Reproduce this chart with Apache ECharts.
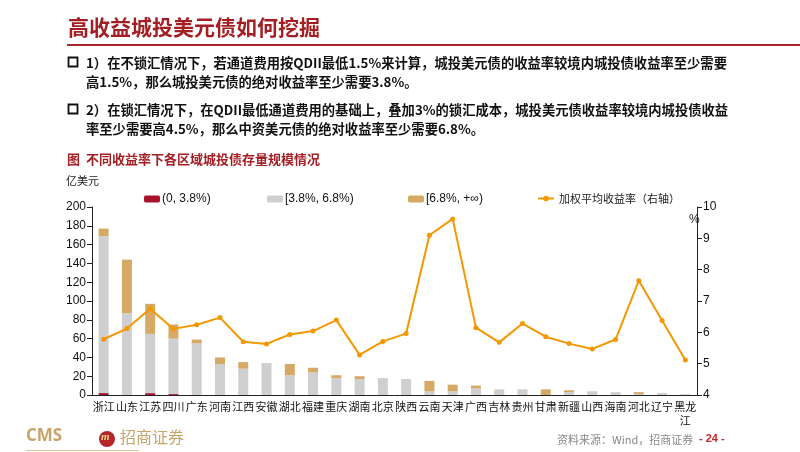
<!DOCTYPE html>
<html><head><meta charset="utf-8">
<script src="https://cdn.jsdelivr.net/npm/echarts@6/dist/echarts.min.js"></script>
<style>html,body{margin:0;padding:0;background:#fff}#c{width:800px;height:452px}</style>
</head><body><div id="c"></div>
<script>
const categories = ['浙江','山东','江苏','四川','广东','河南','江西','安徽','湖北','福建','重庆','湖南','北京','陕西','云南','天津','广西','吉林','贵州','甘肃','新疆','山西','海南','河北','辽宁','黑龙江'];
const lowBand  = [2,0,2,1,0,0,0,0,0,0,0,0,0,0,0,0,0,0,0,0,0,0,0,0,0,0];
const midBand  = [167,87,63,59,55,33,28,34,21,24,18,17,18,17,4,4,7,6,6,0,3,4,3,1,2,0.8];
const highBand = [8,57,32,15,4,7,7,0,12,5,3,3,0,0,11,7,3,0,0,6,2,0,0,2,0,0];
const avgYield = [5.78,6.12,6.75,6.11,6.24,6.47,5.70,5.63,5.93,6.04,6.39,5.28,5.71,5.96,9.10,9.62,6.15,5.68,6.28,5.86,5.64,5.47,5.77,7.65,6.38,5.12];
const seriesNames = ['(0, 3.8%)','[3.8%, 6.8%)','[6.8%, +∞)','加权平均收益率（右轴）'];

const RED = '#a8142c', GRAY = '#cfcfcf', TAN = '#d6a964', ORANGE = '#f39800';
const CJK = '"Noto Sans CJK SC", sans-serif';
const chart = echarts.init(document.getElementById('c'));
const legendBase = {top: 188, itemHeight: 7, itemWidth: 16, textStyle: {fontSize: 12, color: '#111', fontFamily: 'Arial, "Liberation Sans", sans-serif', padding: [0,0,0,-3]}, selectedMode: false};
chart.setOption({
  animation: false,
  graphic: [
    {type: 'text', left: 68, top: 17, style: {text: '高收益城投美元债如何挖掘', font: 'bold 21px ' + CJK, fill: '#a31f24'}},
    {type: 'rect', shape: {x: 67, y: 44, width: 733, height: 2}, style: {fill: '#a8282c'}},
    {type: 'rect', shape: {x: 68.5, y: 57.5, width: 9, height: 9}, style: {fill: 'none', stroke: '#111', lineWidth: 1.8}},
    {type: 'text', left: 86, top: 53, style: {text: '1）在不锁汇情况下，若通道费用按QDII最低1.5%来计算，城投美元债的收益率较境内城投债收益率至少需要\n高1.5%，那么城投美元债的绝对收益率至少需要3.8%。', font: 'bold 13.3px ' + CJK, fill: '#111', lineHeight: 19}},
    {type: 'rect', shape: {x: 68.5, y: 104.5, width: 9, height: 9}, style: {fill: 'none', stroke: '#111', lineWidth: 1.8}},
    {type: 'text', left: 86, top: 100, style: {text: '2）在锁汇情况下，在QDII最低通道费用的基础上，叠加3%的锁汇成本，城投美元债收益率较境内城投债收益\n率至少需要高4.5%，那么中资美元债的绝对收益率至少需要6.8%。', font: 'bold 13.3px ' + CJK, fill: '#111', lineHeight: 19}},
    {type: 'text', left: 67, top: 153, style: {text: '图  不同收益率下各区域城投债存量规模情况', font: 'bold 13px ' + CJK, fill: '#a31f24'}},
    {type: 'text', left: 66, top: 175, style: {text: '亿美元', font: '11px ' + CJK, fill: '#222'}},
    {type: 'text', left: 689, top: 214, style: {text: '%', font: '12px Arial, sans-serif', fill: '#222'}},
    {type: 'text', left: 26, top: 428, style: {text: 'CMS', font: 'bold 17px "Open Sans", sans-serif', fill: '#c8a46a'}},
    {type: 'circle', shape: {cx: 107, cy: 439, r: 8}, style: {fill: '#b5262b'}},
    {type: 'text', left: 101, top: 432, style: {text: 'm', font: 'bold italic 11px serif', fill: '#f2d08a'}},
    {type: 'text', left: 120, top: 429, style: {text: '招商证券', font: '16px ' + CJK, fill: '#c8a46a'}},
    {type: 'rect', shape: {x: 26, y: 450, width: 113, height: 1}, style: {fill: '#d8c29a'}},
    {type: 'text', left: 557, top: 434, style: {text: '资料来源：Wind，招商证券', font: '11px ' + CJK, fill: '#888'}},
    {type: 'text', left: 699, top: 433, style: {text: '- 24 -', font: 'bold 11px Arial, sans-serif', fill: '#c0282c'}}
  ],
  legend: [
    Object.assign({}, legendBase, {left: 139, data: [seriesNames[0]]}),
    Object.assign({}, legendBase, {left: 262, data: [seriesNames[1]]}),
    Object.assign({}, legendBase, {left: 403, data: [seriesNames[2]]}),
    Object.assign({}, legendBase, {left: 532, itemWidth: 16, data: [seriesNames[3]], textStyle: {fontSize: 11, color: '#222', fontFamily: CJK, padding: [0,0,0,0]}})
  ],
  grid: {left: 92, right: 103, top: 207, bottom: 57},
  xAxis: {
    type: 'category', data: categories,
    axisLine: {lineStyle: {color: '#222'}},
    axisTick: {lineStyle: {color: '#222'}},
    axisLabel: {interval: 0, hideOverlap: false, color: '#111', fontSize: 11, fontFamily: CJK, margin: 5, lineHeight: 14,
      formatter: v => v.length > 2 ? v.slice(0,2) + '\n' + v.slice(2) : v}
  },
  yAxis: [
    {type: 'value', min: 0, max: 200, interval: 20,
      axisLine: {show: true, lineStyle: {color: '#222'}}, axisTick: {show: true, lineStyle: {color: '#222'}},
      splitLine: {show: false}, axisLabel: {color: '#111', fontSize: 12, fontFamily: 'Arial, "Liberation Sans", sans-serif', margin: 6}},
    {type: 'value', min: 4, max: 10, interval: 1,
      axisLine: {show: true, lineStyle: {color: '#222'}}, axisTick: {show: true, lineStyle: {color: '#222'}},
      splitLine: {show: false}, axisLabel: {color: '#111', fontSize: 12, fontFamily: 'Arial, "Liberation Sans", sans-serif', margin: 6}}
  ],
  series: [
    {name: seriesNames[0], type: 'bar', stack: 'a', data: lowBand, barWidth: 10, itemStyle: {color: RED}},
    {name: seriesNames[1], type: 'bar', stack: 'a', data: midBand, barWidth: 10, itemStyle: {color: GRAY}},
    {name: seriesNames[2], type: 'bar', stack: 'a', data: highBand, barWidth: 10, itemStyle: {color: TAN}},
    {name: seriesNames[3], type: 'line', yAxisIndex: 1, data: avgYield, symbol: 'circle', symbolSize: 5,
      lineStyle: {color: ORANGE, width: 2}, itemStyle: {color: ORANGE}}
  ]
});
</script></body></html>
